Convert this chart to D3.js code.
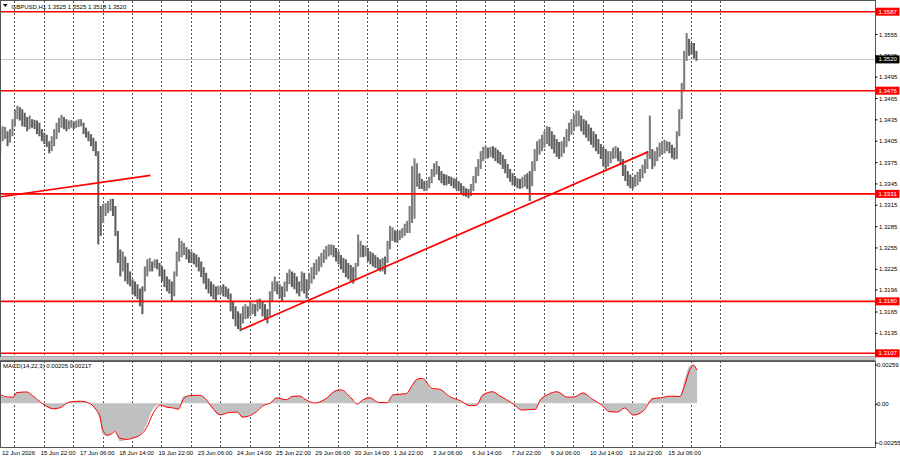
<!DOCTYPE html>
<html>
<head>
<meta charset="utf-8">
<script src="https://cdn.jsdelivr.net/npm/d3@7"></script>
<style>
  body { margin: 0; background: #fff; }
  svg { display: block; }
  text { font-family: "Liberation Sans", Arial, sans-serif; font-size: 6px; fill: #000; }
</style>
</head>
<body>
<svg id="chart" width="900" height="460"></svg>
<script>
var symbolTitle = "GBPUSD,H1  1.3525 1.3525 1.3518 1.3520";
var macdTitle = "MACD(14,22,3) 0.00205 0.00217";

// 2-hour bars, first one at 12 Jun 12:00 (highs / lows)
var highs = [
  1.3422, 1.3426, 1.3425, 1.3419, 1.3422, 1.3436, 1.3450, 1.3455, 1.3453, 1.3450,
  1.3445, 1.3439, 1.3441, 1.3436, 1.3435, 1.3434, 1.3431, 1.3422, 1.3417, 1.3414,
  1.3405, 1.3412, 1.3422, 1.3431, 1.3438, 1.3442, 1.3439, 1.3436, 1.3434, 1.3435,
  1.3432, 1.3434, 1.3436, 1.3436, 1.3431, 1.3424, 1.3419, 1.3415, 1.3410, 1.3405,
  1.3391, 1.3314, 1.3317, 1.3318, 1.3321, 1.3324, 1.3324, 1.3314, 1.3279, 1.3253,
  1.3250, 1.3243, 1.3234, 1.3222, 1.3211, 1.3208, 1.3204, 1.3198, 1.3201, 1.3229,
  1.3239, 1.3241, 1.3236, 1.3239, 1.3239, 1.3234, 1.3229, 1.3225, 1.3215, 1.3211,
  1.3208, 1.3222, 1.3250, 1.3269, 1.3265, 1.3262, 1.3256, 1.3253, 1.3250, 1.3248,
  1.3246, 1.3242, 1.3236, 1.3228, 1.3220, 1.3212, 1.3208, 1.3204, 1.3201, 1.3202,
  1.3201, 1.3204, 1.3201, 1.3198, 1.3191, 1.3180, 1.3173, 1.3166, 1.3163, 1.3173,
  1.3176, 1.3173, 1.3180, 1.3177, 1.3176, 1.3183, 1.3184, 1.3180, 1.3176, 1.3169,
  1.3194, 1.3208, 1.3215, 1.3208, 1.3204, 1.3201, 1.3208, 1.3220, 1.3225, 1.3222,
  1.3220, 1.3215, 1.3208, 1.3222, 1.3220, 1.3211, 1.3220, 1.3228, 1.3234, 1.3239,
  1.3243, 1.3248, 1.3253, 1.3258, 1.3260, 1.3260, 1.3259, 1.3255, 1.3250, 1.3245,
  1.3241, 1.3239, 1.3234, 1.3231, 1.3228, 1.3234, 1.3274, 1.3265, 1.3259, 1.3258,
  1.3255, 1.3250, 1.3248, 1.3245, 1.3242, 1.3239, 1.3241, 1.3243, 1.3265, 1.3286,
  1.3284, 1.3280, 1.3279, 1.3280, 1.3283, 1.3289, 1.3293, 1.3314, 1.3370, 1.3381,
  1.3374, 1.3360, 1.3352, 1.3349, 1.3350, 1.3355, 1.3366, 1.3374, 1.3377, 1.3370,
  1.3363, 1.3359, 1.3358, 1.3356, 1.3355, 1.3353, 1.3352, 1.3349, 1.3346, 1.3342,
  1.3339, 1.3338, 1.3345, 1.3356, 1.3369, 1.3380, 1.3391, 1.3397, 1.3398, 1.3396,
  1.3397, 1.3398, 1.3396, 1.3393, 1.3390, 1.3386, 1.3380, 1.3373, 1.3366, 1.3360,
  1.3356, 1.3353, 1.3352, 1.3355, 1.3358, 1.3360, 1.3363, 1.3377, 1.3394, 1.3405,
  1.3408, 1.3414, 1.3419, 1.3426, 1.3425, 1.3419, 1.3414, 1.3408, 1.3404, 1.3405,
  1.3411, 1.3422, 1.3431, 1.3436, 1.3442, 1.3448, 1.3448, 1.3441, 1.3436, 1.3434,
  1.3429, 1.3424, 1.3419, 1.3415, 1.3408, 1.3401, 1.3397, 1.3394, 1.3391, 1.3391,
  1.3396, 1.3398, 1.3396, 1.3391, 1.3380, 1.3372, 1.3363, 1.3358, 1.3355, 1.3358,
  1.3362, 1.3366, 1.3372, 1.3380, 1.3391, 1.3441, 1.3394, 1.3391, 1.3397, 1.3403,
  1.3405, 1.3407, 1.3405, 1.3404, 1.3400, 1.3396, 1.3419, 1.3450, 1.3487, 1.3532,
  1.3557, 1.3549, 1.3543, 1.3543, 1.3532
];
var lows = [
  1.3388, 1.3405, 1.3408, 1.3398, 1.3403, 1.3412, 1.3426, 1.3436, 1.3434, 1.3426,
  1.3425, 1.3419, 1.3422, 1.3424, 1.3422, 1.3415, 1.3412, 1.3405, 1.3401, 1.3397,
  1.3388, 1.3391, 1.3398, 1.3408, 1.3417, 1.3424, 1.3422, 1.3419, 1.3422, 1.3424,
  1.3422, 1.3424, 1.3425, 1.3426, 1.3415, 1.3410, 1.3405, 1.3398, 1.3391, 1.3384,
  1.3260, 1.3272, 1.3290, 1.3300, 1.3304, 1.3307, 1.3300, 1.3272, 1.3234, 1.3215,
  1.3222, 1.3208, 1.3204, 1.3201, 1.3190, 1.3187, 1.3183, 1.3173, 1.3162, 1.3194,
  1.3215, 1.3222, 1.3222, 1.3227, 1.3225, 1.3215, 1.3208, 1.3200, 1.3194, 1.3191,
  1.3180, 1.3187, 1.3215, 1.3236, 1.3242, 1.3245, 1.3239, 1.3234, 1.3234, 1.3232,
  1.3228, 1.3222, 1.3214, 1.3205, 1.3197, 1.3191, 1.3187, 1.3183, 1.3180, 1.3189,
  1.3191, 1.3187, 1.3186, 1.3183, 1.3166, 1.3155, 1.3145, 1.3141, 1.3138, 1.3149,
  1.3155, 1.3156, 1.3159, 1.3162, 1.3159, 1.3166, 1.3169, 1.3159, 1.3155, 1.3149,
  1.3159, 1.3180, 1.3194, 1.3190, 1.3184, 1.3180, 1.3186, 1.3194, 1.3204, 1.3200,
  1.3197, 1.3191, 1.3187, 1.3194, 1.3191, 1.3184, 1.3197, 1.3205, 1.3211, 1.3217,
  1.3222, 1.3228, 1.3234, 1.3239, 1.3243, 1.3245, 1.3242, 1.3236, 1.3232, 1.3225,
  1.3220, 1.3214, 1.3211, 1.3208, 1.3205, 1.3211, 1.3229, 1.3242, 1.3242, 1.3243,
  1.3236, 1.3232, 1.3229, 1.3227, 1.3225, 1.3222, 1.3222, 1.3218, 1.3234, 1.3253,
  1.3265, 1.3263, 1.3262, 1.3266, 1.3269, 1.3272, 1.3276, 1.3276, 1.3290, 1.3296,
  1.3341, 1.3338, 1.3338, 1.3335, 1.3336, 1.3339, 1.3346, 1.3355, 1.3358, 1.3350,
  1.3346, 1.3343, 1.3343, 1.3345, 1.3342, 1.3339, 1.3338, 1.3335, 1.3332, 1.3328,
  1.3327, 1.3325, 1.3328, 1.3335, 1.3346, 1.3356, 1.3366, 1.3377, 1.3380, 1.3381,
  1.3383, 1.3381, 1.3377, 1.3374, 1.3372, 1.3366, 1.3360, 1.3353, 1.3348, 1.3343,
  1.3342, 1.3339, 1.3338, 1.3339, 1.3341, 1.3338, 1.3321, 1.3342, 1.3363, 1.3377,
  1.3386, 1.3391, 1.3396, 1.3401, 1.3398, 1.3394, 1.3388, 1.3383, 1.3380, 1.3383,
  1.3388, 1.3397, 1.3405, 1.3414, 1.3419, 1.3425, 1.3426, 1.3419, 1.3414, 1.3410,
  1.3405, 1.3400, 1.3396, 1.3391, 1.3387, 1.3380, 1.3370, 1.3366, 1.3369, 1.3374,
  1.3380, 1.3381, 1.3377, 1.3372, 1.3356, 1.3349, 1.3342, 1.3339, 1.3338, 1.3341,
  1.3343, 1.3348, 1.3353, 1.3360, 1.3366, 1.3380, 1.3366, 1.3370, 1.3377, 1.3383,
  1.3386, 1.3388, 1.3391, 1.3388, 1.3381, 1.3379, 1.3380, 1.3412, 1.3436, 1.3476,
  1.3518, 1.3525, 1.3527, 1.3521, 1.3518
];

var levels = [1.3587, 1.3476, 1.3331, 1.3180, 1.3107];
var levelLabels = ["1.3587", "1.3476", "1.3331", "1.3180", "1.3107"];
var lastPrice = 1.3520;

var priceTicks = [1.3555, 1.3525, 1.3495, 1.3465, 1.3435, 1.3405, 1.3375, 1.3345,
                  1.3315, 1.3285, 1.3255, 1.3225, 1.3196, 1.3165, 1.3135, 1.3105];

// trend lines: [start bar, end bar] in hourly bars, [start price, end price]
var trendBars = [[1, 123], [197, 529]];
var trendPrices = [[1.3327, 1.3357], [1.3140, 1.3390]];

// hourly bar index of each time label
var timeLabelBars = [0, 34, 66, 98, 130, 162, 194, 226, 258, 290, 322, 354, 386, 418, 450, 482, 514, 546];
var timeLabels = ["12 Jun 2026", "15 Jun 22:00", "17 Jun 06:00", "18 Jun 14:00", "19 Jun 22:00",
                  "23 Jun 06:00", "24 Jun 14:00", "25 Jun 22:00", "29 Jun 06:00", "30 Jun 14:00",
                  "1 Jul 22:00", "3 Jul 06:00", "6 Jul 14:00", "7 Jul 22:00", "9 Jul 06:00",
                  "10 Jul 14:00", "13 Jul 22:00", "15 Jul 06:00"];

// MACD
var macdBars = [0, 6, 11, 14, 22, 27, 35, 44, 49, 57, 66, 72, 79, 82, 84, 88, 92, 94, 98, 104,
                109, 115, 120, 125, 131, 137, 141, 146, 150, 155, 163, 168, 173, 180, 188, 194, 198, 203, 210, 215,
                221, 226, 234, 239, 245, 249, 257, 265, 275, 279, 286, 292, 296, 302, 309, 316, 321, 332, 336, 341,
                345, 353, 359, 367, 376, 384, 389, 394, 402, 408, 419, 426, 433, 437, 441, 447, 455, 463, 469, 476,
                483, 490, 498, 504, 510, 517, 525, 533, 539, 547, 555, 559, 563, 566, 569];
var macdMain = [0.0006, 0.00038, 0.0004, 0.00075, 0.00075, 0.00048, -0.00007, -0.0004, -0.00029, 0.00011,
                0.00015, 0.00004, -0.0005, -0.0012, -0.00205, -0.00216, -0.00194, -0.00183, -0.0025, -0.00238,
                -0.00227, -0.00205, -0.00139, -0.0004, -0.00007, -0.00029, -0.00029, -0.0004, 0.00048, 0.00053,
                0.00053, 0.00026, -0.00029, -0.0008, -0.00058, -0.00058, -0.00095, -0.00084, -0.0005, -0.00013,
                0.00004, 0.00038, 0.00022, 0.00048, 0.00048, 0.00026, 0, 0.00026, 0.00088, 0.00088,
                0.00038, -0.00007, 0.00022, 0.00038, 0.00004, 0.00004, 0.0006, 0.00064, 0.00115, 0.00164,
                0.00164, 0.00093, 0.00093, 0.00042, 0.00015, -0.00018, -0.00013, 0.0006, 0.00077, 0.00048,
                -0.00007, -0.00046, -0.0004, -0.0004, 0.00026, 0.0006, 0.00077, 0.00038, 0.00042, 0.00071,
                0.00026, -0.00007, -0.00058, -0.00058, -0.00029, -0.0008, -0.0005, 0.00038, 0.00035, 0.00048,
                0.00045, 0.00159, 0.00247, 0.00258, 0.00205];
var macdSignal = [0.0006, 0.00042, 0.0004, 0.0007, 0.00075, 0.0005, -0.00002, -0.00036, -0.0003, 0.00008,
                  0.00014, 0.00005, -0.00045, -0.0009, -0.0017, -0.0021, -0.00198, -0.00186, -0.0023, -0.00238,
                  -0.00228, -0.00207, -0.0016, -0.0007, -0.00012, -0.00027, -0.0003, -0.00038, 0.0003, 0.0005,
                  0.00053, 0.0003, -0.00024, -0.00075, -0.0006, -0.00058, -0.0009, -0.00085, -0.00053, -0.00016,
                  0.00002, 0.00035, 0.00024, 0.00046, 0.00048, 0.00028, 0.00002, 0.00024, 0.00084, 0.00088,
                  0.00042, -0.00004, 0.0002, 0.00037, 0.00006, 0.00004, 0.00055, 0.00064, 0.0011, 0.0016,
                  0.00164, 0.00098, 0.00093, 0.00045, 0.00017, -0.00016, -0.00014, 0.00052, 0.00076, 0.0005,
                  -0.00004, -0.00044, -0.00041, -0.0004, 0.0002, 0.00057, 0.00076, 0.0004, 0.00042, 0.00068,
                  0.0003, -0.00004, -0.00055, -0.00058, -0.00031, -0.00077, -0.00052, 0.0003, 0.00036, 0.00047,
                  0.00045, 0.0012, 0.0022, 0.0025, 0.00217];
var macdTicks = [0.00259, 0, -0.00255];
var macdTickLabels = ["0.00259", "0.00", "-0.00255"];

var svg = d3.select("#chart");
var axisX = 875;
var mainBottom = 357, macdTop = 361, macdBottom = 447;

// hourly bar index -> pixel
var x = d3.scaleLinear().domain([12, 540]).range([14.3, 661.5]);
var y = d3.scaleLinear().domain([1.3107, 1.3587]).range([353.3, 11.7]);
var yM = d3.scaleLinear().domain([-0.00255, 0.00259]).range([442, 364]);

var defs = svg.append("defs");
defs.append("clipPath").attr("id", "clipMain")
  .append("rect").attr("x", 0).attr("y", 0).attr("width", axisX).attr("height", mainBottom);
defs.append("clipPath").attr("id", "clipMacd")
  .append("rect").attr("x", 0).attr("y", macdTop).attr("width", axisX).attr("height", macdBottom - macdTop);

// day separators (dotted)
var dayBars = d3.range(25).map(function (k) { return 12 + 24 * k; });
svg.append("g").selectAll("line").data(dayBars).enter().append("line")
  .attr("x1", function (d) { return Math.round(x(d)) + 0.5; })
  .attr("x2", function (d) { return Math.round(x(d)) + 0.5; })
  .attr("y1", 1).attr("y2", macdBottom)
  .attr("stroke", "#555").attr("stroke-width", 1).attr("stroke-dasharray", "2,2");

// current price line
svg.append("line")
  .attr("x1", 0).attr("x2", axisX)
  .attr("y1", Math.round(y(lastPrice)) + 0.5).attr("y2", Math.round(y(lastPrice)) + 0.5)
  .attr("stroke", "#c8c8c8");

// price bars, drawn as thin high-low strokes
var bars = highs.map(function (h, i) { return { i: i, high: h, low: lows[i] }; });
var step = x(2) - x(0);
svg.append("g").attr("clip-path", "url(#clipMain)")
  .selectAll("rect").data(bars).enter().append("rect")
  .attr("x", function (d) { return x(2 * d.i - 0.5) + 0.2; })
  .attr("width", step - 0.4)
  .attr("y", function (d) { return y(d.high); })
  .attr("height", function (d) { return Math.max(1, y(d.low) - y(d.high)); })
  .attr("fill", function (d, i) {
    if (i > 0 && d.high + d.low < highs[i - 1] + lows[i - 1]) return "#5f5f5f";
    return "#7c7c7c";
  });

// horizontal levels
svg.append("g").selectAll("line").data(levels).enter().append("line")
  .attr("x1", 0).attr("x2", axisX)
  .attr("y1", function (d) { return y(d); }).attr("y2", function (d) { return y(d); })
  .attr("stroke", "#ff0000").attr("stroke-width", 1.6);

// trend lines
svg.append("g").attr("clip-path", "url(#clipMain)")
  .selectAll("line").data(trendBars).enter().append("line")
  .attr("x1", function (d) { return x(d[0]); })
  .attr("x2", function (d) { return x(d[1]); })
  .attr("y1", function (d, i) { return y(trendPrices[i][0]); })
  .attr("y2", function (d, i) { return y(trendPrices[i][1]); })
  .attr("stroke", "#ff0000").attr("stroke-width", 1.7);

// MACD histogram + signal
var macdPts = macdBars.map(function (b, i) { return { b: b, v: macdMain[i], s: macdSignal[i] }; });
var gM = svg.append("g").attr("clip-path", "url(#clipMacd)");
gM.append("path").datum(macdPts)
  .attr("d", d3.area().curve(d3.curveMonotoneX)
    .x(function (d) { return x(d.b); }).y0(yM(0)).y1(function (d) { return yM(d.v); }))
  .attr("fill", "#c0c0c0");
gM.append("path").datum(macdPts)
  .attr("d", d3.line().curve(d3.curveMonotoneX)
    .x(function (d) { return x(d.b); }).y(function (d) { return yM(d.s); }))
  .attr("fill", "none").attr("stroke", "#ff0000").attr("stroke-width", 1);

// frames and window separator
svg.append("rect").attr("x", 0.5).attr("y", 0.5).attr("width", axisX).attr("height", mainBottom - 0.5)
  .attr("fill", "none").attr("stroke", "#555");
svg.append("rect").attr("x", 0).attr("y", mainBottom).attr("width", axisX + 1).attr("height", macdTop - mainBottom)
  .attr("fill", "#c4c4c4");
svg.append("line").attr("x1", 0).attr("x2", axisX).attr("y1", macdTop - 0.5).attr("y2", macdTop - 0.5)
  .attr("stroke", "#666");
svg.append("rect").attr("x", 0.5).attr("y", macdTop + 0.5).attr("width", axisX).attr("height", macdBottom - macdTop)
  .attr("fill", "none").attr("stroke", "#555");

// right price axis
var gA = svg.append("g");
gA.selectAll("line.tick").data(priceTicks).enter().append("line")
  .attr("x1", axisX).attr("x2", axisX + 2.5)
  .attr("y1", function (d) { return y(d); }).attr("y2", function (d) { return y(d); })
  .attr("stroke", "#000");
gA.selectAll("text.tick").data(priceTicks).enter().append("text")
  .attr("x", axisX + 4).attr("y", function (d) { return y(d); }).attr("dy", "0.35em")
  .text(function (d, i) { return d.toFixed(4); });

function priceBox(v, label, color) {
  gA.append("rect").attr("x", axisX + 0.5).attr("y", y(v) - 4).attr("width", 24).attr("height", 8)
    .attr("fill", color);
  gA.append("text").attr("x", axisX + 3.5).attr("y", y(v)).attr("dy", "0.35em")
    .style("fill", "#fff").text(label);
}
levels.forEach(function (v, i) { priceBox(v, levelLabels[i], "#ff0000"); });
priceBox(lastPrice, lastPrice.toFixed(4), "#000");

// MACD axis
gA.selectAll("line.mt").data(macdTicks).enter().append("line")
  .attr("x1", axisX).attr("x2", axisX + 2.5)
  .attr("y1", function (d) { return yM(d) + 1; }).attr("y2", function (d) { return yM(d) + 1; })
  .attr("stroke", "#000");
gA.selectAll("text.mt").data(macdTicks).enter().append("text")
  .attr("x", axisX + 2).attr("y", function (d) { return yM(d) + 1; }).attr("dy", "0.35em")
  .text(function (d, i) { return macdTickLabels[i]; });

// time axis
svg.append("g").selectAll("text").data(timeLabelBars).enter().append("text")
  .attr("x", function (d) { return Math.max(2, x(d) - 0.5); })
  .attr("y", 455)
  .text(function (d, i) { return timeLabels[i]; });

// titles
svg.append("path").attr("d", "M3,4 L7.5,4 L5.25,7 Z").attr("fill", "#000");
svg.append("text").attr("x", 11.5).attr("y", 8.5).text(symbolTitle);
svg.append("text").attr("x", 3).attr("y", 367.5).text(macdTitle);
</script>
</body>
</html>
